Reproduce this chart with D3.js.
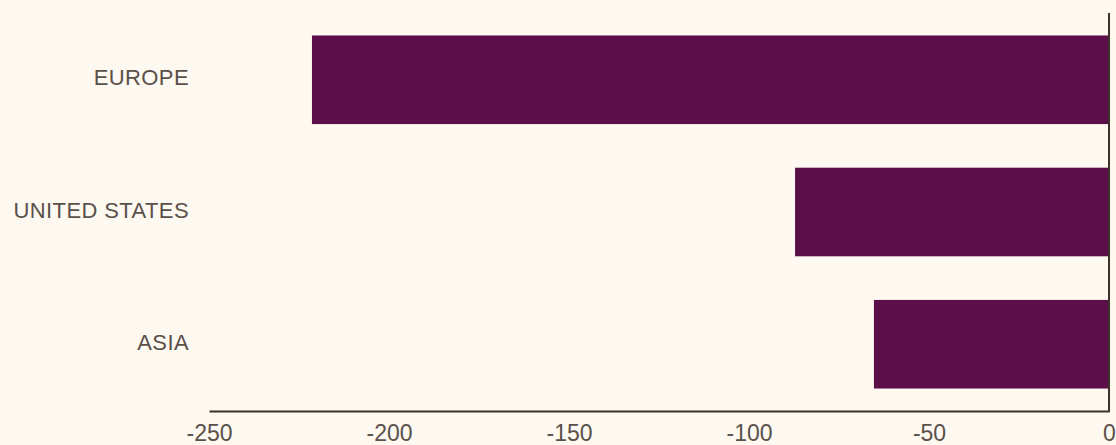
<!DOCTYPE html>
<html><head><meta charset="utf-8">
<script src="https://cdn.jsdelivr.net/npm/d3@7"></script>
<style>
html,body{margin:0;padding:0;background:#fdf8f0;}
svg{display:block;}
text{font-family:"Liberation Sans",Arial,sans-serif;fill:#5a504a;}
</style></head><body>
<svg id="c" width="1116" height="445"></svg>
<script>
const categories = ["EUROPE", "UNITED STATES", "ASIA"];
const values = [-221.4, -87.2, -65.3];
const tickValues = [-250, -200, -150, -100, -50, 0];

const svg = d3.select("#c");
svg.append("rect").attr("width",1116).attr("height",445).attr("fill","#fdf8f0");

const x = d3.scaleLinear().domain([-250, 0]).range([209, 1109]);
const y = d3.scaleBand().domain(categories).range([13, 411]).paddingInner(0.33).paddingOuter(0.17);

svg.selectAll("rect.bar").data(categories).join("rect")
  .attr("class","bar")
  .attr("x", (d,i) => x(values[i]))
  .attr("width", (d,i) => x(0) - x(values[i]))
  .attr("y", d => y(d))
  .attr("height", y.bandwidth())
  .attr("fill", "#5a0f48");

// x axis
const xAxis = svg.append("g").attr("transform","translate(0,411)")
  .call(d3.axisBottom(x).tickValues(tickValues).tickSize(0).tickPadding(14).tickFormat(d => String(d)));
xAxis.select(".domain").attr("stroke","#3d3129").attr("stroke-width",2);
xAxis.selectAll("text").style("font-size","23px").attr("fill","#5a504a")
  .attr("font-family","Liberation Sans, Arial, sans-serif");

// y axis at zero
const yAxis = svg.append("g").attr("transform","translate(1109,0)")
  .call(d3.axisLeft(y).tickSize(0).tickFormat(""));
yAxis.select(".domain").attr("stroke","#3d3129").attr("stroke-width",2).attr("d","M0,13V412");

// category labels
svg.selectAll("text.cat").data(categories).join("text")
  .attr("class","cat")
  .attr("x", 189)
  .attr("y", d => y(d) + y.bandwidth()/2 - 2)
  .attr("text-anchor","end")
  .attr("dominant-baseline","central")
  .style("font-size","22px")
  .style("letter-spacing","0.4px")
  .text(d => d);
</script>
</body></html>
